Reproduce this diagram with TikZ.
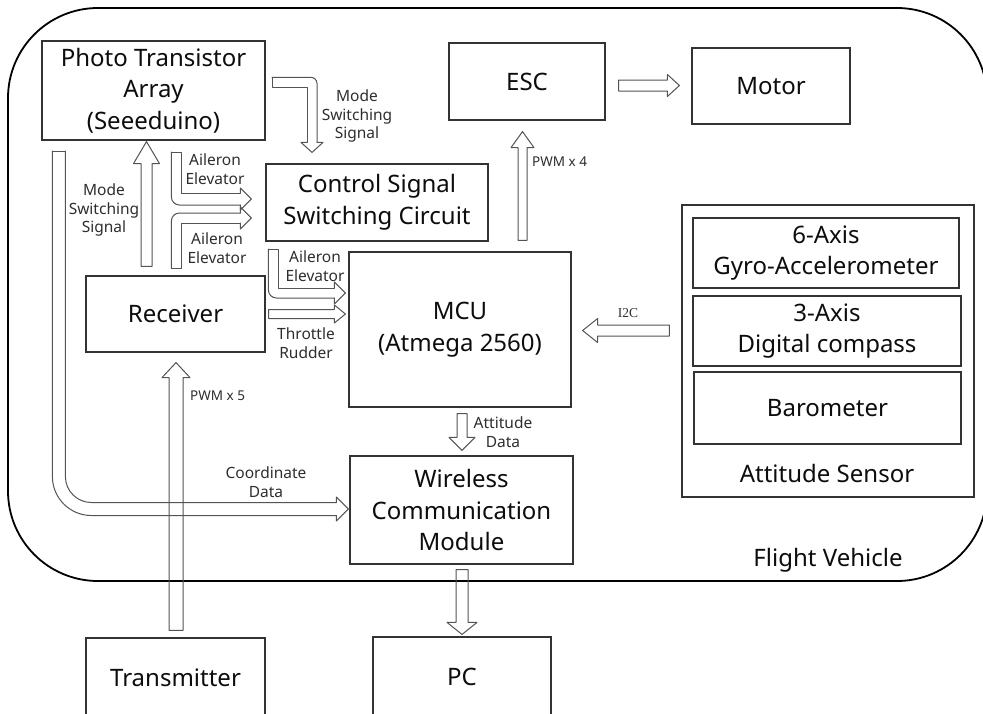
\documentclass[tikz,border=0pt]{standalone}
\usepackage{fontspec}
\setmainfont{Noto Sans}
\newfontfamily\serifi{Liberation Serif}
\usetikzlibrary{calc}
\definecolor{boxc}{gray}{0.2}
\definecolor{arrc}{gray}{0.33}
\definecolor{txtc}{gray}{0.05}
\definecolor{lblc}{gray}{0.18}
\newcommand\bigtxt{\fontsize{24}{31.5}\selectfont}
\newcommand\smalltxt{\fontsize{15.5}{18.8}\selectfont}
\newcommand\tinytxt{\fontsize{13.5}{15}\selectfont}
\newcommand\sarrow[5]{% tail, tip, shaft half, head half, head length
  \path ($(#2)!#5pt!(#1)$) coordinate (hb)
    ($(hb)!#4pt!90:(#2)$) coordinate (h1)
    ($(hb)!#4pt!-90:(#2)$) coordinate (h2)
    ($(hb)!#3pt!90:(#2)$) coordinate (s1)
    ($(hb)!#3pt!-90:(#2)$) coordinate (s2)
    ($(#1)!#3pt!-90:(#2)$) coordinate (t1)
    ($(#1)!#3pt!90:(#2)$) coordinate (t2);
  \draw[arr] (#2) -- (h1) -- (s1) -- (t2) -- (t1) -- (s2) -- (h2) -- cycle;}
\begin{document}
\begin{tikzpicture}[x=1pt,y=-1pt,
  box/.style={draw=boxc, line width=1.2pt, inner sep=0pt, align=center, font=\bigtxt, text=txtc},
  lbl/.style={inner sep=0pt, align=center, font=\smalltxt, text=lblc},
  arr/.style={draw=arrc, line width=1pt, line join=round, line cap=round}]
\useasboundingbox[fill=white] (0,0) rectangle (983,713);

% outer frame
\draw[line width=1.8pt, rounded corners=90pt] (8,8) rectangle (987,581);

% boxes
\node[box, minimum width=223pt, minimum height=99pt] (pt) at (153.5,90.5) {Photo Transistor\\Array\\(Seeeduino)};
\node[box, minimum width=222pt, minimum height=77pt] (cssc) at (377,202.5) {Control Signal\\Switching Circuit};
\node[box, minimum width=156pt, minimum height=77pt] (esc) at (527,81.5) {ESC};
\node[box, minimum width=158pt, minimum height=76pt] (motor) at (771,86) {Motor};
\node[box, minimum width=222pt, minimum height=155pt] (mcu) at (460,329.5) {MCU\\(Atmega 2560)};
\node[box, minimum width=179pt, minimum height=76pt] (rec) at (175.5,314) {Receiver};
\node[box, minimum width=223pt, minimum height=108pt] (wcm) at (461.5,510) {Wireless\\Communication\\Module};
\node[box, minimum width=178pt, minimum height=80pt] (pc) at (462,677) {PC};
\node[box, minimum width=179pt, minimum height=80pt] (tx) at (175.5,678) {Transmitter};
\node[box, minimum width=292pt, minimum height=292pt] (att) at (828,351) {};
\node[box, draw=none] (attl) at (827,473) {Attitude Sensor};
\node[box, minimum width=266pt, minimum height=70pt] (gyro) at (826,253) {6-Axis\\Gyro-Accelerometer};
\node[box, minimum width=268pt, minimum height=70pt] (comp) at (827,331) {3-Axis\\Digital compass};
\node[box, minimum width=267pt, minimum height=72pt] (baro) at (827.5,408) {Barometer};
\node[box, draw=none] (fv) at (828,560) {Flight Vehicle};

% labels
\node[lbl] (lms1) at (357,116) {Mode\\Switching\\Signal};
\node[lbl] (lms2) at (104,210) {Mode\\Switching\\Signal};
\node[lbl] (lae1) at (215,169) {Aileron\\Elevator};
\node[lbl] (lae2) at (217,248) {Aileron\\Elevator};
\node[lbl] (lae3) at (315,266) {Aileron\\Elevator};
\node[lbl] (ltr) at (306,343) {Throttle\\Rudder};
\node[lbl, font=\tinytxt, anchor=west] (lpwm4) at (532,162) {PWM x 4};
\node[lbl, font=\tinytxt, anchor=west] (lpwm5) at (190,396) {PWM x 5};
\node[lbl, font=\serifi\fontsize{13.5}{15}\selectfont] (li2c) at (628,313) {I2C};
\node[lbl] (latt) at (503,432) {Attitude\\Data};
\node[lbl] (lcoord) at (266,482) {Coordinate\\Data};

% straight arrows
\coordinate (emT) at ($(esc.east)+(13,4)$);
\coordinate (emH) at ($(motor.west)+(-12,-0.5)$);
\sarrow{emT}{emH}{5.5}{11}{12}
\coordinate (p4T) at ($(mcu.north)+(62.5,-11)$);
\coordinate (p4H) at ($(esc.south)+(-4.5,11)$);
\sarrow{p4T}{p4H}{4.5}{11.5}{16}
\coordinate (i2T) at ($(att.west)+(-12,-20.5)$);
\coordinate (i2H) at ($(mcu.east)+(11,1)$);
\sarrow{i2T}{i2H}{5.5}{12}{15}
\coordinate (msT) at ($(rec.north)+(-29,-9)$);
\coordinate (msH) at ($(pt.south)+(-7,1)$);
\sarrow{msT}{msH}{5.5}{13}{22}
\coordinate (thT) at ($(rec.east)+(3,0)$);
\coordinate (thH) at ($(mcu.west)+(-3,-15.5)$);
\sarrow{thT}{thH}{4.5}{9}{11}
\coordinate (p5T) at ($(tx.north)+(0.5,-7)$);
\coordinate (p5H) at ($(rec.south)+(0.5,10)$);
\sarrow{p5T}{p5H}{7}{14}{15}
\coordinate (adT) at ($(mcu.south)+(2,6)$);
\coordinate (adH) at ($(wcm.north)+(0.5,-5)$);
\sarrow{adT}{adH}{5}{13}{13}
\coordinate (pcT) at ($(wcm.south)+(0.5,5)$);
\coordinate (pcH) at ($(pc.north)+(0,-2)$);
\sarrow{pcT}{pcH}{6}{15}{12}

% bent arrow: photo transistor -> control signal (mode switching)
\coordinate (bmsH) at ($(cssc.north)+(-65,-11)$);
\begin{scope}[shift={(bmsH)}]
  \draw[arr] (-5,-10) |- (-40,-65) -- (-40,-75);
  \draw[arr, rounded corners=6pt] (-40,-75) -| (5,-10);
  \draw[arr] (5,-10) -- (11,-10) -- (0,0) -- (-11,-10) -- (-5,-10);
\end{scope}

% bent arrow: upper aileron/elevator -> control signal
\coordinate (baeU) at ($(cssc.west)+(-14,-3.5)$);
\begin{scope}[shift={(baeU)}]
  \draw[arr] (-11,-6) -| (-70,-47) -- (-80,-47);
  \draw[arr, rounded corners=8pt] (-80,-47) |- (-11,6);
  \draw[arr] (-11,6) -- (-11,11) -- (0,0) -- (-11,-11) -- (-11,-6);
\end{scope}

% bent arrow: lower aileron/elevator -> control signal
\coordinate (baeL) at ($(cssc.west)+(-14,15.5)$);
\begin{scope}[shift={(baeL)}]
  \draw[arr] (-11,5) -| (-70,50) -- (-80,50);
  \draw[arr, rounded corners=8pt] (-80,50) |- (-11,-5);
  \draw[arr] (-11,-5) -- (-11,-11) -- (0,0) -- (-11,11) -- (-11,5);
\end{scope}

% bent arrow: control signal -> MCU (aileron/elevator)
\coordinate (baeM) at ($(mcu.west)+(-3,-36.5)$);
\begin{scope}[shift={(baeM)}]
  \draw[arr] (-11,-5) -| (-67,-44) -- (-77,-44);
  \draw[arr, rounded corners=8pt] (-77,-44) |- (-11,5);
  \draw[arr] (-11,5) -- (-11,11) -- (0,0) -- (-11,-11) -- (-11,-5);
\end{scope}

% bent arrow: photo transistor -> wireless (coordinate data)
\coordinate (bcdH) at ($(wcm.west)+(-1,-1)$);
\begin{scope}[shift={(bcdH)}]
  \draw[arr, rounded corners=26pt] (-12,-6.5) -| (-283,-358);
  \draw[arr] (-283,-358) -- (-296,-358);
  \draw[arr, rounded corners=39pt] (-296,-358) |- (-12,6.5);
  \draw[arr] (-12,6.5) -- (-12,12) -- (0,0) -- (-12,-12) -- (-12,-6.5);
\end{scope}
\end{tikzpicture}
\end{document}
